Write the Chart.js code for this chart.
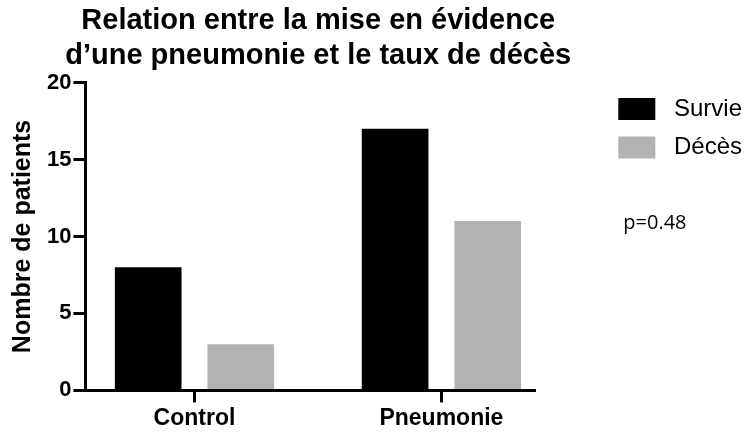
<!DOCTYPE html>
<html>
<head>
<meta charset="utf-8">
<script src="https://cdn.jsdelivr.net/npm/chart.js@4"></script>
<style>
  html, body { margin: 0; padding: 0; background: #fff; overflow: hidden; }
  #wrap { width: 747px; height: 434px; position: relative; }
  canvas { display: block; }
</style>
</head>
<body>
<div id="wrap"><canvas id="barChart"></canvas></div>
<script>
// data
const categories = ['Control', 'Pneumonie'];
const survie = [8, 17];
const deces = [3, 11];
const seriesNames = ['Survie', 'Décès'];
const yTicks = [0, 5, 10, 15, 20];
const titleLines = ['Relation entre la mise en évidence', 'd\u2019une pneumonie et le taux de décès'];
const yTitle = 'Nombre de patients';
const pValue = 'p=0.48';

const FONT = "'Liberation Sans', Arial, Helvetica, sans-serif";
const LEGEND_PAD = 14.5;

// bars sit on a linear x scale so the groups can be placed unevenly like the original
function toPoints(values) {
    return values.map((v, i) => ({ x: i, y: v }));
}

// widen the title box (so lines are not squeezed) and centre it a bit right of the plot,
// then pin the legend to the right edge, leaving a gap after the plot
const placeBlocks = {
    id: 'placeBlocks',
    afterLayout(chart) {
        const t = chart.titleBlock;
        const mid = (chart.chartArea.left + chart.chartArea.right) / 2 + 8;
        t.left = mid - 300;
        t.right = mid + 300;
        const lg = chart.legend;
        const w = lg.right - lg.left;
        lg.right = chart.width + 5;
        lg.left = lg.right - w;
    }
};

// p value note under the legend
const noteText = {
    id: 'noteText',
    afterDraw(chart) {
        const ctx = chart.ctx;
        const lg = chart.legend;
        ctx.save();
        ctx.fillStyle = '#000';
        ctx.font = "20px 'Open Sans', sans-serif";
        ctx.textAlign = 'left';
        ctx.textBaseline = 'middle';
        ctx.fillText(pValue, lg.left + LEGEND_PAD + 5, 223);
        ctx.restore();
    }
};

const ctx = document.getElementById('barChart').getContext('2d');
new Chart(ctx, {
    type: 'bar',
    data: {
        datasets: [{
            label: seriesNames[0],
            data: toPoints(survie),
            backgroundColor: '#000000',
            borderWidth: 0
        }, {
            label: seriesNames[1],
            data: toPoints(deces),
            backgroundColor: '#b3b3b3',
            borderWidth: 0
        }]
    },
    options: {
        responsive: true,
        maintainAspectRatio: false,
        animation: false,
        categoryPercentage: 0.75,
        barPercentage: 0.72,
        layout: {
            padding: { left: 0, right: 5, top: 0, bottom: 0 }
        },
        plugins: {
            title: {
                display: true,
                text: titleLines,
                fullSize: false,
                color: '#000',
                font: { family: FONT, size: 29, weight: 'bold', lineHeight: 1.207 },
                padding: { top: 3, bottom: 9.5 }
            },
            legend: {
                position: 'right',
                align: 'start',
                fullSize: false,
                labels: {
                    color: '#000',
                    font: { family: FONT, size: 24 },
                    boxWidth: 37,
                    boxHeight: 22,
                    padding: LEGEND_PAD,
                    // a leading space gives the wider box-to-text gap of the original
                    generateLabels: (chart) => Chart.defaults.plugins.legend.labels.generateLabels(chart)
                        .map(item => Object.assign(item, { text: ' ' + item.text }))
                }
            },
            tooltip: { enabled: false }
        },
        scales: {
            x: {
                type: 'linear',
                offset: false,
                min: -0.4415,
                max: 1.379,
                afterBuildTicks: (axis) => {
                    axis.ticks = categories.map((c, i) => ({ value: i }));
                },
                // keep the plot short of the legend
                afterFit: (scale) => { scale.paddingRight = 212; },
                ticks: {
                    color: '#000',
                    font: { family: FONT, size: 23, weight: 'bold' },
                    padding: 2,
                    maxRotation: 0,
                    autoSkip: false,
                    callback: (v) => categories[v]
                },
                grid: {
                    display: true,
                    offset: false,
                    drawOnChartArea: false,
                    drawTicks: true,
                    tickLength: 12,
                    tickWidth: 3,
                    tickColor: '#000'
                },
                border: { display: true, color: '#000', width: 3, z: 1 }
            },
            y: {
                min: yTicks[0],
                max: yTicks[yTicks.length - 1],
                afterBuildTicks: (axis) => {
                    axis.ticks = yTicks.map(v => ({ value: v }));
                },
                ticks: {
                    color: '#000',
                    font: { family: FONT, size: 22, weight: 'bold' },
                    padding: 2
                },
                grid: {
                    display: true,
                    drawOnChartArea: false,
                    drawTicks: true,
                    tickLength: 12,
                    tickWidth: 3,
                    tickColor: '#000'
                },
                border: { display: true, color: '#000', width: 3, z: 1 },
                title: {
                    display: true,
                    text: yTitle,
                    color: '#000',
                    font: { family: FONT, size: 25, weight: 'bold', lineHeight: 1.2 },
                    padding: { top: 8.5, bottom: 6.5 }
                }
            }
        }
    },
    plugins: [placeBlocks, noteText]
});
</script>
</body>
</html>
